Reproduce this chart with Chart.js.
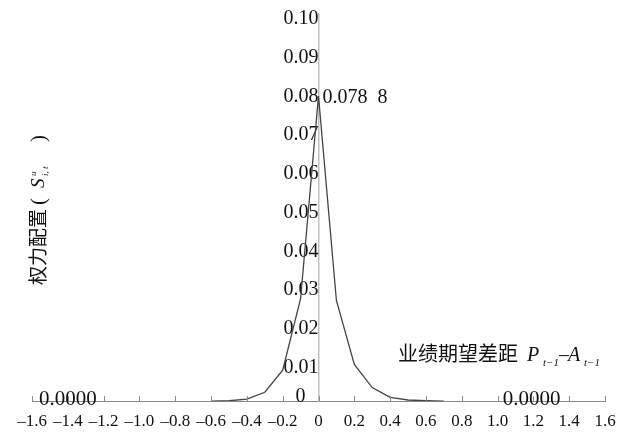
<!DOCTYPE html>
<html><head><meta charset="utf-8">
<script src="https://cdn.jsdelivr.net/npm/chart.js@4.4.1/dist/chart.umd.min.js"></script>
<style>html,body{margin:0;padding:0;background:#fff}#wrap{width:622px;height:438px;position:relative}</style>
</head><body><div id="wrap"><canvas id="c" width="622" height="438"></canvas></div>
<script>
// ---- data ----
const xValues = [-0.6, -0.5, -0.4, -0.3, -0.2, -0.1, 0, 0.1, 0.2, 0.3, 0.4, 0.5, 0.6, 0.7];
const yValues = [0, 0.0001, 0.0005, 0.0023, 0.0080, 0.0265, 0.0788, 0.0260, 0.0095, 0.0035, 0.0010, 0.0003, 0.0001, 0];
const xTickValues = [-1.6, -1.4, -1.2, -1.0, -0.8, -0.6, -0.4, -0.2, 0, 0.2, 0.4, 0.6, 0.8, 1.0, 1.2, 1.4, 1.6];
const xTickLabels = ['–1.6', '–1.4', '–1.2', '–1.0', '–0.8', '–0.6', '–0.4', '–0.2', '0', '0.2', '0.4', '0.6', '0.8', '1.0', '1.2', '1.4', '1.6'];
const yTickValues = [0, 0.01, 0.02, 0.03, 0.04, 0.05, 0.06, 0.07, 0.08, 0.09, 0.10];
const yTickLabels = ['0', '0.01', '0.02', '0.03', '0.04', '0.05', '0.06', '0.07', '0.08', '0.09', '0.10'];
const peakValue = 0.0788;
const peakText = '0.078 8';
const zeroNoteX = [-1.4, 1.19];
const zeroNoteText = ['0.0000', '0.0000'];

const SERIF = '"Liberation Serif", "DejaVu Serif", serif';
const CJK = '"Noto Sans CJK SC", sans-serif';
const Y_LABEL_GAP = 13;

const extras = {
  id: 'extras',
  afterDraw(chart) {
    const ctx = chart.ctx;
    const xs = chart.scales.x, ys = chart.scales.y;
    const y0 = ys.getPixelForValue(0);
    const xAxisPx = xs.getPixelForValue(0);
    ctx.save();
    // small upward tick marks on x axis
    ctx.strokeStyle = '#8a8a8a';
    ctx.lineWidth = 1;
    xTickValues.forEach(v => {
      const px = Math.round(xs.getPixelForValue(v)) + 0.5;
      ctx.beginPath(); ctx.moveTo(px, y0); ctx.lineTo(px, y0 - 5); ctx.stroke();
    });
    ctx.fillStyle = '#111';
    // y tick label "0" sits just above the x axis
    ctx.font = '20px ' + SERIF;
    ctx.textAlign = 'right'; ctx.textBaseline = 'middle';
    ctx.fillText(yTickLabels[0], xAxisPx - Y_LABEL_GAP, y0 - 4);
    // peak label (two groups separated by a wide gap)
    ctx.textAlign = 'left';
    const pk = peakText.split(' ');
    const px0 = xAxisPx + 4, py0 = ys.getPixelForValue(peakValue) + 2;
    ctx.fillText(pk[0], px0, py0);
    ctx.fillText(pk[1], px0 + ctx.measureText(pk[0]).width + 10, py0);
    // zero notes
    ctx.font = '21px ' + SERIF;
    ctx.textAlign = 'center'; ctx.textBaseline = 'alphabetic';
    zeroNoteX.forEach((v, i) => {
      ctx.fillText(zeroNoteText[i], xs.getPixelForValue(v), y0 + 4);
    });
    // x axis title
    ctx.textAlign = 'left'; ctx.textBaseline = 'alphabetic';
    ctx.font = '20px ' + CJK; ctx.fillText('业绩期望差距', 398, 361);
    ctx.font = 'italic 20px ' + SERIF; ctx.fillText('P', 527, 361);
    ctx.font = 'italic 11px ' + SERIF; ctx.fillText('t−1', 543, 366);
    ctx.font = '20px ' + SERIF; ctx.fillText('–', 559, 361);
    ctx.font = 'italic 20px ' + SERIF; ctx.fillText('A', 568, 361);
    ctx.font = 'italic 11px ' + SERIF; ctx.fillText('t−1', 584, 366);
    // y axis title (rotated); text runs upward from screen y=285
    ctx.translate(45, 285);
    ctx.rotate(-Math.PI / 2);
    ctx.font = '19px ' + CJK; ctx.fillText('权力配置', 0, 0);
    ctx.font = '21px ' + SERIF; ctx.fillText('(', 80, 0);
    ctx.font = 'italic 19px ' + SERIF; ctx.fillText('S', 97, -1);
    ctx.font = 'italic 9px ' + SERIF;
    ctx.fillText('u', 109, -9);
    ctx.fillText('i, t', 109, 3);
    ctx.font = '21px ' + SERIF; ctx.fillText(')', 143, 0);
    ctx.restore();
  }
};

new Chart(document.getElementById('c'), {
  type: 'line',
  data: {
    datasets: [{
      data: xValues.map((x, i) => ({x: x, y: yValues[i]})),
      borderColor: '#444',
      borderWidth: 1.3,
      pointRadius: 0,
      tension: 0,
      fill: false
    }]
  },
  options: {
    responsive: false,
    animation: false,
    layout: {padding: {left: 32, right: 17, top: 13, bottom: 7}},
    plugins: {legend: {display: false}, tooltip: {enabled: false}},
    scales: {
      x: {
        type: 'linear', position: 'bottom', min: -1.6, max: 1.6,
        afterBuildTicks: s => { s.ticks = xTickValues.map(v => ({value: v})); },
        ticks: {
          autoSkip: false, maxRotation: 0, padding: 1, color: '#111',
          font: {family: SERIF, size: 17, lineHeight: 1.05},
          callback: (v, i) => xTickLabels[i]
        },
        grid: {display: true, drawOnChartArea: false, drawTicks: true, tickLength: 10, tickColor: 'rgba(0,0,0,0)'},
        border: {display: true, color: '#8a8a8a', width: 1}
      },
      y: {
        type: 'linear', position: {x: 0}, min: 0, max: 0.1,
        afterBuildTicks: s => { s.ticks = yTickValues.map(v => ({value: v})); },
        ticks: {
          autoSkip: false, padding: 2, labelOffset: 5, color: '#111',
          font: {family: SERIF, size: 20},
          // the "0" label is placed above the x axis by the extras plugin
          callback: (v, i) => (i === 0 ? '' : yTickLabels[i])
        },
        grid: {display: true, drawOnChartArea: false, drawTicks: true, tickLength: Y_LABEL_GAP - 2, tickColor: 'rgba(0,0,0,0)'},
        border: {display: true, color: '#c0c0c0', width: 1.5}
      }
    }
  },
  plugins: [extras]
});
</script>
</body></html>
